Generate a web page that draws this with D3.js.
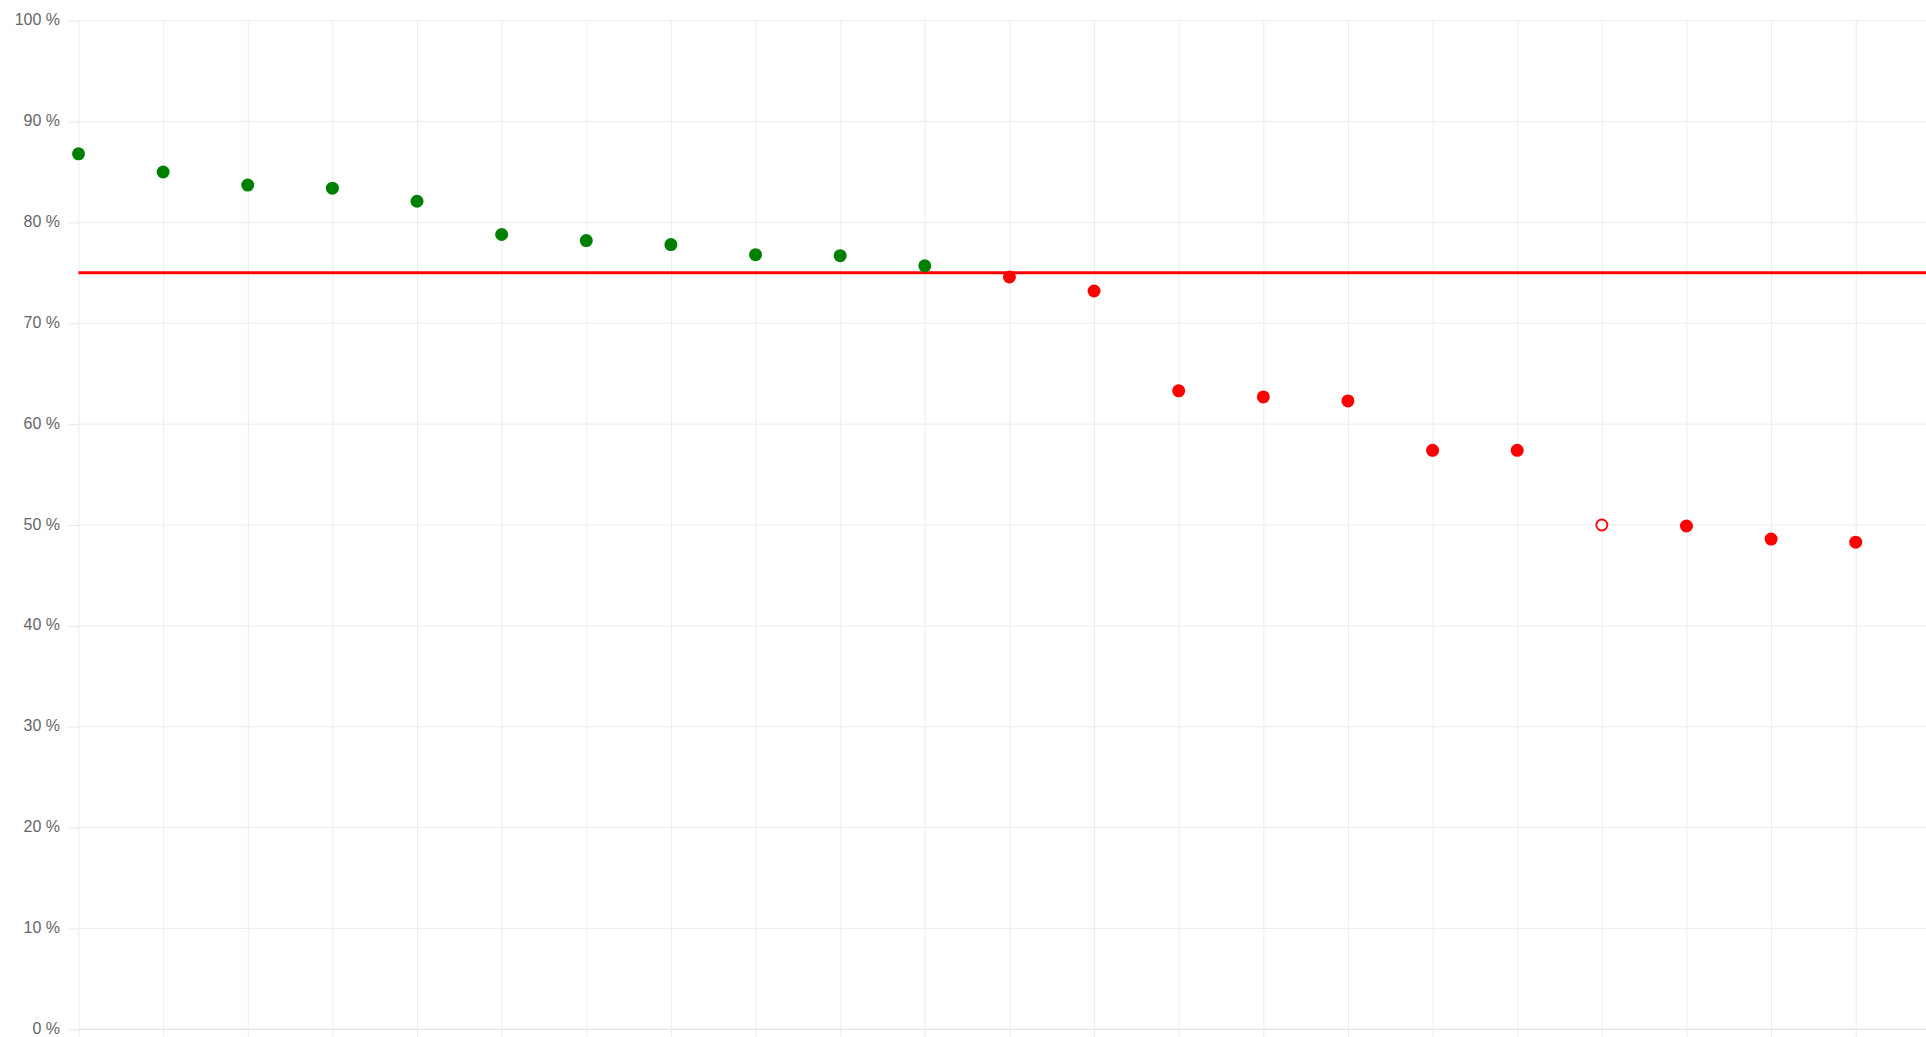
<!DOCTYPE html>
<html>
<head>
<meta charset="utf-8">
<script src="https://cdn.jsdelivr.net/npm/d3@7"></script>
<style>
  html, body { margin: 0; padding: 0; background: #fff; overflow: hidden; }
  svg { display: block; }
</style>
</head>
<body>
<div id="chart"></div>
<script>
// one slot per point, the last slot sits just past the right edge
const categories = ["1", "2", "3", "4", "5", "6", "7", "8", "9", "10", "11",
                    "12", "13", "14", "15", "16", "17", "18", "19", "20", "21", "22", "23"];
const scores = [86.8, 85.0, 83.7, 83.4, 82.1, 78.8, 78.2, 77.8, 76.8, 76.7, 75.7,
                74.6, 73.2, 63.3, 62.7, 62.3, 57.4, 57.4, 50.0, 49.9, 48.6, 48.3];
const hollow = [false, false, false, false, false, false, false, false, false, false, false,
                false, false, false, false, false, false, false, true, false, false, false];
const target = [75, 75, 75, 75, 75, 75, 75, 75, 75, 75, 75, 75,
                75, 75, 75, 75, 75, 75, 75, 75, 75, 75, 75];
const yTicks = [0, 10, 20, 30, 40, 50, 60, 70, 80, 90, 100];

var width = 1926;
var height = 1037;
var plotLeft = 78.5, plotTop = 20.7, plotBottom = 1029.3;
var step = 84.63;

var svg = d3.select("#chart")
    .append("svg")
    .attr("width", width)
    .attr("height", height);

var x = d3.scalePoint()
    .domain(categories)
    .range([plotLeft, plotLeft + step * (categories.length - 1)]);

var y = d3.scaleLinear()
    .domain([0, 100])
    .range([plotBottom, plotTop]);

// y labels + short ticks left of the plot
var yAxis = d3.axisLeft(y)
    .tickValues(yTicks)
    .tickSize(plotLeft - 69)
    .tickPadding(9)
    .tickFormat(d => d + " %");

var ya = svg.append("g")
    .attr("transform", "translate(" + plotLeft + ",0)")
    .call(yAxis);
ya.select(".domain").remove();
ya.selectAll("line").attr("stroke", "#e6e6e6");
ya.selectAll("text")
    .attr("fill", "#666")
    .attr("dy", "0.25em")
    .style("font-family", "'Liberation Sans', Arial, Helvetica, sans-serif")
    .style("font-size", "16px");

// horizontal grid
svg.append("g")
    .selectAll("line")
    .data(yTicks)
    .enter().append("line")
    .attr("x1", plotLeft)
    .attr("x2", width)
    .attr("y1", d => y(d))
    .attr("y2", d => y(d))
    .attr("stroke", d => d === 0 ? "#dcdcdc" : "#ececec")
    .attr("stroke-width", 1);

// vertical grid, runs a little below the x axis as tick marks
var xAxis = d3.axisBottom(x)
    .tickSize(8)
    .tickFormat("");

var xa = svg.append("g")
    .attr("transform", "translate(0," + plotBottom + ")")
    .call(xAxis);
xa.select(".domain").remove();
xa.selectAll("line")
    .attr("stroke", "#ececec")
    .attr("y1", -(plotBottom - plotTop))
    .attr("y2", 8);

// target line
var line = d3.line()
    .x((d, i) => x(categories[i]))
    .y(d => y(d));

svg.append("path")
    .datum(target)
    .attr("d", line)
    .attr("fill", "none")
    .attr("stroke", "#ff0000")
    .attr("stroke-width", 3);

// points
svg.append("g")
    .selectAll("circle")
    .data(scores)
    .enter().append("circle")
    .attr("cx", (d, i) => x(categories[i]))
    .attr("cy", d => y(d))
    .attr("r", (d, i) => hollow[i] ? 5.5 : 6.5)
    .attr("fill", (d, i) => hollow[i] ? "#fff" : (d >= 75 ? "#008000" : "#ff0000"))
    .attr("stroke", (d, i) => hollow[i] ? "#ff0000" : "none")
    .attr("stroke-width", 1.8);
</script>
</body>
</html>
